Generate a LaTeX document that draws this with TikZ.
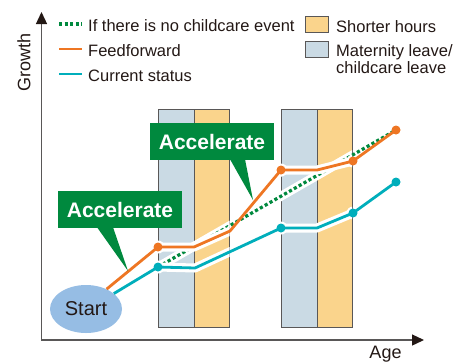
\documentclass[tikz,border=0pt]{standalone}
\usepackage{fontspec}
\setmainfont{Liberation Sans}
\usetikzlibrary{arrows.meta}
\usetikzlibrary{positioning}
\usetikzlibrary{shapes.geometric}
\usetikzlibrary{calc}
\definecolor{mgreen}{HTML}{00893E}
\definecolor{morange}{HTML}{EE7623}
\definecolor{mteal}{HTML}{00AEBB}
\definecolor{mbarblue}{HTML}{CADAE4}
\definecolor{mbarorange}{HTML}{FAD48C}
\definecolor{mstart}{HTML}{96BDE4}
\definecolor{mgray}{HTML}{595757}
\definecolor{mink}{HTML}{231815}
\tikzset{
  legendtext/.style={anchor=base west, inner sep=0, text=mink, font=\fontsize{16.5}{15}\selectfont},
  axislabel/.style={inner sep=0, text=mink, font=\fontsize{18}{18}\selectfont},
  halo/.style={white, line width=9pt, line join=round, line cap=round},
  feedline/.style={morange, line width=2.8pt, line join=round},
  nowline/.style={mteal, line width=2.8pt, line join=round},
  noeventline/.style={mgreen, line width=3.2pt, dash pattern=on 3.2pt off 2.4pt},
  dot/.style={circle, inner sep=0, minimum size=9pt, fill=#1},
  keybox/.style={draw=mgray, line width=1pt, minimum width=23pt, minimum height=16pt, inner sep=0},
  bar/.style={draw=mgray, line width=1pt},
  accel/.style={fill=mgreen, text=white, font=\fontsize{21}{21}\selectfont\bfseries,
    minimum width=124pt, minimum height=37pt, inner sep=0}
}
\newcommand{\barclip}{\clip (158, 109) rectangle (229.5, 327) (281, 109) rectangle (352, 327);}
\begin{document}
\begin{tikzpicture}[x=1pt, y=-1pt]
    \useasboundingbox (0, 0) rectangle (462, 362);

    % bars
    \draw [bar, fill=mbarblue] (158, 109) rectangle (194, 327);
    \draw [bar, fill=mbarorange] (194, 109) rectangle (229.5, 327);
    \draw [bar, fill=mbarblue] (281, 109) rectangle (317, 327);
    \draw [bar, fill=mbarorange] (317, 109) rectangle (352, 327);

    % axes
    \coordinate (origin) at (41.5, 340);
    \coordinate (ytip) at (41.5, 12);
    \coordinate (xtip) at (424, 340);
    \draw [mgray, line width=1.3pt, {Triangle[length=12pt, width=11pt, color=mink]}-{Triangle[length=12pt, width=11pt, color=mink]}] (ytip) -- (origin) -- (xtip);
    \node [axislabel, rotate=90] (growth) at (24, 62) {Growth};
    \node [axislabel, anchor=base] (age) at (385.5, 358) {Age};

    % legend
    \coordinate (k1a) at (59, 24);
    \coordinate (k1b) at (82, 24);
    \coordinate (k2a) at (59, 49);
    \coordinate (k2b) at (82, 49);
    \coordinate (k3a) at (59, 74);
    \coordinate (k3b) at (82, 74);
    \draw [noeventline] (k1a) -- (k1b);
    \draw [feedline] (k2a) -- (k2b);
    \draw [nowline] (k3a) -- (k3b);
    \node [legendtext] (noevent) at (88, 31.5) {If there is no childcare event};
    \node [legendtext] (feed) at (88, 56) {Feedforward};
    \node [legendtext] (current) at (88, 81) {Current status};
    \node [keybox, fill=mbarorange] (keyshort) at (316.5, 24) {};
    \node [keybox, fill=mbarblue] (keyleave) at (316.5, 49) {};
    \node [legendtext] (short) at (336, 32.3) {Shorter hours};
    \node [legendtext, anchor=north west, align=left] (leave) at (336, 44.5) {Maternity leave/\\childcare leave};

    \node [ellipse, fill=mstart, minimum width=72pt, minimum height=48pt, inner sep=0,
      text=mink, font=\fontsize{20}{20}\selectfont] (start) at (86, 309) {Start};

    % points
    \coordinate (f1) at (158, 247);
    \coordinate (f2) at (194, 247);
    \coordinate (f3) at (230, 231);
    \coordinate (f4) at (281, 170);
    \coordinate (f5) at (317, 170);
    \coordinate (f6) at (353, 161);
    \coordinate (f7) at (396, 130);
    \coordinate (c1) at (158, 267);
    \coordinate (c2) at (195, 268);
    \coordinate (c3) at (281, 228);
    \coordinate (c4) at (317, 228);
    \coordinate (c5) at (353, 213);
    \coordinate (c6) at (396, 182);

    % no childcare event
    \begin{scope}
      \barclip
      \draw [halo] (c1) -- (f7);
    \end{scope}
    \draw [noeventline] (c1) -- (f7);

    % current status
    \begin{scope}
      \barclip
      \draw [halo] (start.29) -- (c1) -- (c2) -- (c3) -- (c4) -- (c5) -- (c6);
      \foreach \p in {c1, c3, c5} \fill [white] (\p) circle (6.5pt);
    \end{scope}
    \draw [nowline] (start.29) -- (c1) -- (c2) -- (c3) -- (c4) -- (c5) -- (c6);
    \node [dot=mteal] (c1dot) at (c1) {};
    \node [dot=mteal] (c3dot) at (c3) {};
    \node [dot=mteal] (c5dot) at (c5) {};
    \node [dot=mteal] (c6dot) at (c6) {};

    % feedforward
    \begin{scope}
      \barclip
      \draw [halo] (start.44) -- (f1) -- (f2) -- (f3) -- (f4) -- (f5) -- (f6) -- (f7);
      \foreach \p in {f1, f4, f6} \fill [white] (\p) circle (6.5pt);
    \end{scope}
    \draw [feedline] (start.44) -- (f1) -- (f2) -- (f3) -- (f4) -- (f5) -- (f6) -- (f7);
    \node [dot=morange] (f1dot) at (f1) {};
    \node [dot=morange] (f4dot) at (f4) {};
    \node [dot=morange] (f6dot) at (f6) {};
    \node [dot=morange] (f7dot) at (f7) {};

    % callouts
    \node [accel] (acc1) at (120, 209.5) {Accelerate};
    \coordinate (acc1tip) at (128, 271);
    \fill [mgreen] ($(acc1.south)+(-23, -1)$) -- ($(acc1.south)+(-7, -1)$) -- (acc1tip) -- cycle;
    \node [accel] (acc2) at (212, 141.5) {Accelerate};
    \coordinate (acc2tip) at (253, 200);
    \fill [mgreen] ($(acc2.south)+(18, -1)$) -- ($(acc2.south)+(33, -1)$) -- (acc2tip) -- cycle;
\end{tikzpicture}
\end{document}
